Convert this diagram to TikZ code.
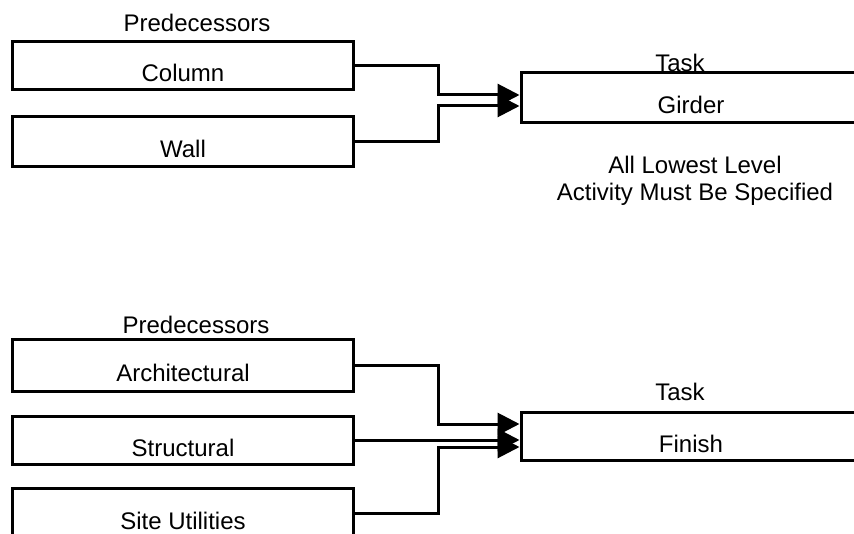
\documentclass[tikz,border=0pt]{standalone}
\usepackage{fontspec}
\setmainfont{Liberation Sans}
\usetikzlibrary{arrows.meta, positioning}

\begin{document}
\begin{tikzpicture}[x=1pt, y=-1pt,
    lbl/.style={font=\fontsize{24}{27}\selectfont, inner sep=0pt},
    predbox/.style={draw, rectangle, line width=3pt, minimum width=341pt,
                    minimum height=48pt, text height=32pt, text depth=0pt,
                    inner sep=0pt, font=\fontsize{24}{27}\selectfont},
    taskbox/.style={predbox, minimum width=340pt},
    link/.style={line width=3pt},
    >={Triangle[length=22pt, width=22pt]}
]
\useasboundingbox (0,0) rectangle (854,534);
%% Upper case: Girder
\node[lbl] (predA) at (197, 23) {Predecessors};
\node[predbox] (column) at (183, 66) {Column};
\node[predbox, minimum height=50pt] (wall) at (183, 142) {Wall};
\node[lbl] (taskA) at (680, 63) {Task};
\node[taskbox, minimum height=50pt] (girder) at (691, 98) {Girder};
\node[lbl, align=center] (note) at (695, 181) {All Lowest Level\\Activity Must Be Specified};
\draw[link, ->] (column.east) -- ++(83,0) |- ([yshift=3pt]girder.west);
\draw[link, ->] (wall.east) -- ++(83,0) |- ([yshift=-8pt]girder.west);
%% Lower case: Finish
\node[lbl] (predB) at (196, 325) {Predecessors};
\node[predbox, minimum height=52pt] (arch) at (183, 366) {Architectural};
\node[predbox] (struct) at (183, 440) {Structural};
\node[predbox, minimum height=50pt] (site) at (183, 513) {Site Utilities};
\node[lbl] (taskB) at (680, 392) {Task};
\node[taskbox] (finish) at (691, 436) {Finish};
\draw[link, ->] (arch.east) -- ++(83,0) |- ([yshift=12pt]finish.west);
\draw[link, ->] (struct.east) -- (struct.east -| finish.west);
\draw[link, ->] (site.east) -- ++(83,0) |- ([yshift=-11pt]finish.west);
\end{tikzpicture}
\end{document}
